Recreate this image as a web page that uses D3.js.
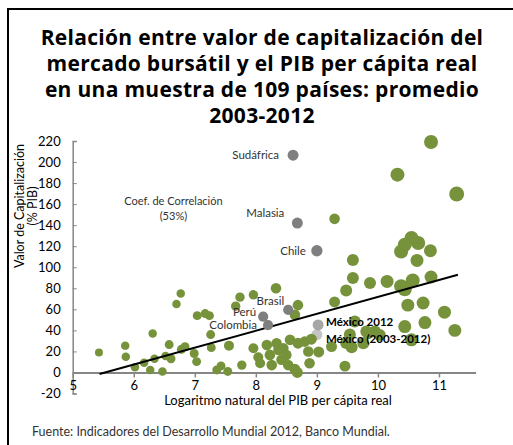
<!DOCTYPE html>
<html>
<head>
<meta charset="utf-8">
<script src="https://cdn.jsdelivr.net/npm/d3@7"></script>
<style>
  body { margin: 0; background: #fff; }
  svg { display: block; }
</style>
</head>
<body>
<div id="chart"></div>
<script>
// ---- data ----
var titleLines = [
  "Relación entre valor de capitalización del",
  "mercado bursátil y el PIB per cápita real",
  "en una muestra de 109 países: promedio",
  "2003-2012"
];
var yTicks = [-20, 0, 20, 40, 60, 80, 100, 120, 140, 160, 180, 200, 220];
var xTicks = [5, 6, 7, 8, 9, 10, 11];

// log GDP per capita, market cap (% GDP), bubble size
var countryX = [5.43, 5.86, 5.87, 6.02, 6.17, 6.27, 6.31, 6.34, 6.47, 6.52,
  6.58, 6.61, 6.70, 6.77, 6.78, 6.84, 6.99, 7.03, 7.04, 7.17,
  7.24, 7.26, 7.27, 7.36, 7.43, 7.54, 7.56, 7.67, 7.74, 7.77,
  7.96, 7.96, 8.04, 8.07, 8.18, 8.23, 8.26, 8.33, 8.34, 8.37,
  8.42, 8.45, 8.50, 8.53, 8.56, 8.64, 8.69, 8.69, 8.64, 8.68,
  8.86, 8.88, 8.91, 9.03, 9.24, 9.29, 9.29, 9.46, 9.48, 9.48,
  9.54, 9.57, 9.59, 9.59, 9.62, 9.76, 9.81, 9.87, 9.95, 10.03,
  10.15, 10.32, 10.38, 10.44, 10.55, 10.66, 10.64, 10.86, 10.38, 10.44,
  10.57, 10.87, 10.49, 10.74, 10.44, 10.55, 10.77, 11.09, 11.26, 10.87,
  11.29, 9.84, 8.80];
var countryY = [19, 25.5, 15, 5, 9.3, 2.4, 37, 13, 0.8, 15.7,
  26.5, 13, 65, 75, 22, 24.5, 18, 10.3, 54, 56,
  54, 36, 23.6, 2.4, 6.2, 1, 25.5, 63, 71.6, 7,
  73.8, 23, 14.5, 8.8, 26, 16.7, 7, 80, 27.8, 21.4,
  12, 23, 16.7, 7, 31, 54.8, 64, 27.8, 3, 0,
  20, 8.8, 31.6, 19.5, 24.6, 67, 146, 6, 78, 28,
  36, 24, 89.7, 107, 48.4, 27.8, 39, 85, 38.9, 35.7,
  86.5, 188, 115, 121.4, 127.8, 123, 106.5, 115.7, 82, 79,
  87.4, 90.7, 64, 66, 43.6, 31, 47.4, 57.3, 40, 219,
  169.7, 37.3, 29.3];
var countrySize = [16, 18, 18, 18, 18, 18, 18, 18, 18, 18,
  20, 20, 18, 18, 20, 20, 20, 20, 20, 20,
  20, 20, 20, 20, 20, 20, 25, 22, 22, 22,
  22, 25, 25, 25, 28, 28, 28, 28, 28, 28,
  28, 28, 28, 28, 28, 28, 28, 30, 30, 30,
  28, 28, 30, 30, 30, 30, 28, 30, 36, 36,
  36, 36, 36, 36, 36, 36, 36, 36, 36, 36,
  42, 49, 49, 49, 49, 49, 42, 42, 49, 49,
  49, 42, 42, 42, 42, 42, 42, 42, 42, 49,
  56, 36, 28];

var namedLabels = ["Sudáfrica", "Malasia", "Chile", "Brasil", "Perú", "Colombia", "México (2003-2012)", "México 2012"];
var namedX = [8.61, 8.68, 9.0, 8.53, 8.12, 8.2, 9.0, 9.02];
var namedY = [206.5, 142, 115.7, 59.5, 53, 45, 36, 45.2];
var namedSize = [30, 30, 32, 26, 26, 26, 30, 30];

var trendSlope = 16.06, trendIntercept = -88.8;
var trendFrom = 5.44, trendTo = 11.31;
var correlation = "53%";

// ---- drawing ----
var width = 513, height = 445;
var green = "#76933c", gray = "#7f7f7f", axisGray = "#868686";
var labelFont = "Lato, 'Open Sans', sans-serif";

var svg = d3.select("#chart").append("svg")
  .attr("width", width)
  .attr("height", height)
  .style("background", "#fff");

// frame, runs off the right and bottom edges
svg.append("rect")
  .attr("x", 8).attr("y", 9)
  .attr("width", 600).attr("height", 600)
  .attr("fill", "none")
  .attr("stroke", "#000")
  .attr("stroke-width", 2);

svg.append("g").selectAll("text")
  .data(titleLines)
  .enter().append("text")
  .attr("x", 262)
  .attr("y", function (d, i) { return 45 + i * 26; })
  .attr("text-anchor", "middle")
  .style("font-family", "'Open Sans', sans-serif")
  .style("font-weight", 700)
  .style("font-size", "21px")
  .style("letter-spacing", "0.3px")
  .style("fill", "#000")
  .text(function (d) { return d; });

var x = d3.scaleLinear().domain([5, 11.6]).range([72.7, 475.6]);
var y = d3.scaleLinear().domain([-20, 220]).range([393.5, 141]);
var r = d3.scaleSqrt().domain([0, 64]).range([0, 8]);

// plain hyphen for negatives, as in the original
var fmt = function (d) { return String(d); };

// y axis
var yAxis = d3.axisLeft(y).tickValues(yTicks).tickFormat(fmt).tickSize(-4).tickPadding(12);
var gy = svg.append("g")
  .attr("transform", "translate(" + x(5) + ",0)")
  .call(yAxis);
gy.select(".domain").attr("stroke", axisGray).attr("stroke-width", 1.5);
gy.selectAll(".tick line").attr("stroke", axisGray);
gy.selectAll("text")
  .style("font-family", labelFont)
  .style("font-size", "13px")
  .style("fill", "#000");

// x axis sits on y = 0
var xAxis = d3.axisBottom(x).tickValues(xTicks).tickFormat(fmt)
  .tickSizeInner(5).tickSizeOuter(0).tickPadding(3);
var gx = svg.append("g")
  .attr("transform", "translate(0," + y(0) + ")")
  .call(xAxis);
gx.select(".domain").attr("stroke", axisGray).attr("stroke-width", 2);
gx.selectAll(".tick line").attr("stroke", axisGray).attr("stroke-width", 1.5);
gx.selectAll("text")
  .style("font-family", labelFont)
  .style("font-size", "13px")
  .style("fill", "#000");

// axis titles
svg.append("text")
  .attr("x", 278).attr("y", 405)
  .attr("text-anchor", "middle")
  .style("font-family", labelFont)
  .style("font-size", "13px")
  .text("Logaritmo natural del PIB per cápita real");

var yTitle = svg.append("text")
  .attr("transform", "translate(24,206) rotate(-90)")
  .attr("text-anchor", "middle")
  .style("font-family", labelFont)
  .style("font-size", "12.5px");
yTitle.append("tspan").attr("x", 0).attr("y", 0).text("Valor de Capitalización");
yTitle.append("tspan").attr("x", 0).attr("y", 13).text("(% PIB)");

// bubbles
var points = countryX.map(function (v, i) {
  return { x: v, y: countryY[i], size: countrySize[i] };
});
var named = namedLabels.map(function (name, i) {
  return { name: name, x: namedX[i], y: namedY[i], size: namedSize[i] };
});

// México 2003-2012 sits under the green bubbles
svg.append("circle")
  .attr("cx", x(named[6].x)).attr("cy", y(named[6].y))
  .attr("r", r(named[6].size))
  .attr("fill", "#c4c4c4");

svg.append("g").selectAll("circle")
  .data(points)
  .enter().append("circle")
  .attr("cx", function (d) { return x(d.x); })
  .attr("cy", function (d) { return y(d.y); })
  .attr("r", function (d) { return r(d.size); })
  .attr("fill", green);

// trend line
svg.append("line")
  .attr("x1", x(trendFrom)).attr("y1", y(trendIntercept + trendSlope * trendFrom))
  .attr("x2", x(trendTo)).attr("y2", y(trendIntercept + trendSlope * trendTo))
  .attr("stroke", "#000")
  .attr("stroke-width", 2);

svg.append("g").selectAll("circle")
  .data(named.slice(0, 6).concat([named[7]]))
  .enter().append("circle")
  .attr("cx", function (d) { return x(d.x); })
  .attr("cy", function (d) { return y(d.y); })
  .attr("r", function (d) { return r(d.size); })
  .attr("fill", function (d) { return d.name == "México 2012" ? "#a6a6a6" : gray; });

// labels next to their bubble: [dx, dy, anchor, bold]
var labelPlace = {
  "Sudáfrica": [-14, 4, "end", false],
  "Malasia": [-13, -6, "end", false],
  "Chile": [-11, 4, "end", false],
  "Brasil": [-4, -5, "end", false],
  "Perú": [-7, -1, "end", false],
  "Colombia": [-11, 4, "end", false],
  "México 2012": [8, 1, "start", true],
  "México (2003-2012)": [9, 8, "start", true]
};
svg.append("g").selectAll("text")
  .data(named)
  .enter().append("text")
  .attr("x", function (d) { return x(d.x) + labelPlace[d.name][0]; })
  .attr("y", function (d) { return y(d.y) + labelPlace[d.name][1]; })
  .attr("text-anchor", function (d) { return labelPlace[d.name][2]; })
  .style("font-family", labelFont)
  .style("font-size", "11.5px")
  .style("font-weight", function (d) { return labelPlace[d.name][3] ? 700 : 400; })
  .style("fill", function (d) { return labelPlace[d.name][3] ? "#000" : "#333"; })
  .text(function (d) { return d.name; });

var corr = svg.append("text")
  .attr("text-anchor", "middle")
  .style("font-family", labelFont)
  .style("font-size", "11px")
  .style("fill", "#333");
corr.append("tspan").attr("x", x(6.65)).attr("y", y(159)).text("Coef. de Correlación");
corr.append("tspan").attr("x", x(6.65)).attr("y", y(145)).text("(" + correlation + ")");

// source
svg.append("text")
  .attr("x", 32).attr("y", 436)
  .style("font-family", labelFont)
  .style("font-size", "12.5px")
  .style("fill", "#333")
  .text("Fuente: Indicadores del Desarrollo Mundial 2012, Banco Mundial.");
</script>
</body>
</html>
